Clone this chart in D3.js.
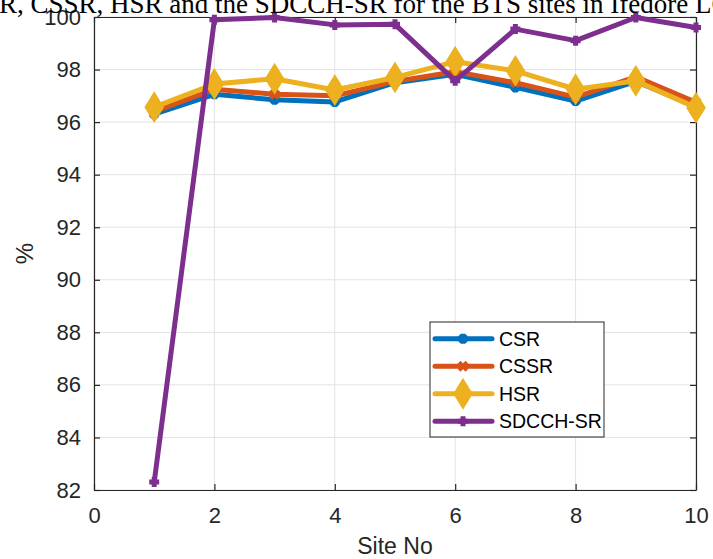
<html>
<head>
<script src="https://cdn.jsdelivr.net/npm/d3@7"></script>
<style>
  body { margin: 0; background: #fff; }
  svg { display: block; }
</style>
</head>
<body>
<svg id="chart"></svg>
<script>
// values
let sites = [1, 2, 3, 4, 5, 6, 7, 8, 9, 10]
let csr   = [96.30, 97.06, 96.85, 96.77, 97.50, 97.82, 97.32, 96.80, 97.55, 96.60]
let cssr  = [96.40, 97.25, 97.06, 97.00, 97.55, 97.92, 97.50, 96.95, 97.72, 96.75]
let hsr   = [96.57, 97.45, 97.65, 97.22, 97.70, 98.30, 97.95, 97.25, 97.57, 96.55]
let sdcch = [82.30, 99.90, 99.98, 99.70, 99.72, 97.57, 99.54, 99.10, 99.98, 99.60]
let seriesNames = ["CSR", "CSSR", "HSR", "SDCCH-SR"]
let xTicks = [0, 2, 4, 6, 8, 10]
let yTicks = [82, 84, 86, 88, 90, 92, 94, 96, 98, 100]
let titleText = "Comparison of CSR, CSSR, HSR and the SDCCH-SR for the BTS sites in Ifedore LGA"

let series = [
  { name: seriesNames[0], values: csr,   color: "#0072BD", marker: "star" },
  { name: seriesNames[1], values: cssr,  color: "#D95319", marker: "cross" },
  { name: seriesNames[2], values: hsr,   color: "#EDB120", marker: "diamond" },
  { name: seriesNames[3], values: sdcch, color: "#7E2F8E", marker: "plus" }
]

let width = 713, height = 559
let margin = { top: 17, right: 17, bottom: 69, left: 94 }
let axisColor = "#262626"

let svg = d3.select("#chart").attr("width", width).attr("height", height)

let xScale = d3.scaleLinear().domain([0, 10]).range([margin.left, width - margin.right])
let yScale = d3.scaleLinear().domain([82, 100]).range([height - margin.bottom, margin.top])

let x0 = xScale.range()[0], x1 = xScale.range()[1]
let y0 = yScale.range()[0], y1 = yScale.range()[1]

// grid
let grid = svg.append("g")
grid.selectAll(".gx").data(xTicks).enter().append("line")
  .attr("x1", d => xScale(d)).attr("x2", d => xScale(d))
  .attr("y1", y0).attr("y2", y1)
  .attr("stroke", "#e3e3e3").attr("stroke-width", 1)
grid.selectAll(".gy").data(yTicks).enter().append("line")
  .attr("x1", x0).attr("x2", x1)
  .attr("y1", d => yScale(d)).attr("y2", d => yScale(d))
  .attr("stroke", "#e3e3e3").attr("stroke-width", 1)

// axes (ticks pointing inwards, like the original)
let font = "'Liberation Sans', Arial, sans-serif"
let axisB = svg.append("g").attr("transform", `translate(0,${y0})`)
  .call(d3.axisBottom(xScale).tickValues(xTicks).tickSizeInner(-6).tickSizeOuter(0).tickPadding(17))
let axisT = svg.append("g").attr("transform", `translate(0,${y1})`)
  .call(d3.axisTop(xScale).tickValues(xTicks).tickSizeInner(-6).tickSizeOuter(0).tickFormat(""))
let axisL = svg.append("g").attr("transform", `translate(${x0},0)`)
  .call(d3.axisLeft(yScale).tickValues(yTicks).tickSizeInner(-6).tickSizeOuter(0).tickPadding(13))
let axisR = svg.append("g").attr("transform", `translate(${x1},0)`)
  .call(d3.axisRight(yScale).tickValues(yTicks).tickSizeInner(-6).tickSizeOuter(0).tickFormat(""))

;[axisB, axisT, axisL, axisR].forEach(a => {
  a.select(".domain").attr("stroke", axisColor).attr("stroke-width", 1.2)
  a.selectAll(".tick line").attr("stroke", axisColor).attr("stroke-width", 1.2)
  a.selectAll("text").attr("fill", axisColor).style("font-family", font).style("font-size", "22px")
})

// lines
let line = d3.line().x((d, i) => xScale(sites[i])).y(d => yScale(d))

function markerPath(type, s) {
  if (type == "diamond") return `M0,${-s}L${s * 0.62},0L0,${s}L${-s * 0.62},0Z`
  if (type == "plus") return `M${-s},0L${s},0M0,${-s}L0,${s}`
  if (type == "cross") return `M${-s},${-s}L${s},${s}M${-s},${s}L${s},${-s}`
  // star: plus + cross
  let k = s * 0.72
  return `M${-s},0L${s},0M0,${-s}L0,${s}M${-k},${-k}L${k},${k}M${-k},${k}L${k},${-k}`
}
function drawMarker(g, type, color) {
  if (type == "diamond") {
    g.append("path").attr("d", markerPath(type, 14)).attr("fill", color).attr("stroke", color).attr("stroke-width", 2)
  } else if (type == "plus") {
    g.append("path").attr("d", markerPath(type, 5)).attr("fill", "none").attr("stroke", color).attr("stroke-width", 5)
  } else if (type == "cross") {
    g.append("path").attr("d", markerPath(type, 4)).attr("fill", "none").attr("stroke", color).attr("stroke-width", 4)
  } else {
    g.append("path").attr("d", markerPath(type, 5)).attr("fill", "none").attr("stroke", color).attr("stroke-width", 4)
  }
}

series.forEach(s => {
  let g = svg.append("g")
  g.append("path").datum(s.values)
    .attr("d", line)
    .attr("fill", "none")
    .attr("stroke", s.color)
    .attr("stroke-width", 5)
    .attr("stroke-linejoin", "round")
  s.values.forEach((v, i) => {
    let m = g.append("g").attr("transform", `translate(${xScale(sites[i])},${yScale(v)})`)
    drawMarker(m, s.marker, s.color)
  })
})

// legend
let legend = svg.append("g").attr("transform", "translate(430,322)")
legend.append("rect").attr("width", 174).attr("height", 115)
  .attr("fill", "#fff").attr("stroke", axisColor).attr("stroke-width", 1)
let legendRows = d3.scaleBand().domain(seriesNames).range([3, 113])
series.forEach(s => {
  let cy = legendRows(s.name) + legendRows.bandwidth() / 2
  let row = legend.append("g").attr("transform", `translate(0,${cy})`)
  row.append("line").attr("x1", 5).attr("x2", 62).attr("y1", 0).attr("y2", 0)
    .attr("stroke", s.color).attr("stroke-width", 5).attr("stroke-linecap", "round")
  let m = row.append("g").attr("transform", "translate(33,0)")
  drawMarker(m, s.marker, s.color)
  row.append("text").attr("x", 69).attr("y", 0).attr("dy", "0.36em")
    .attr("fill", "#000").style("font-family", font).style("font-size", "19.5px")
    .text(s.name)
})

// axis labels
svg.append("text").attr("x", (x0 + x1) / 2).attr("y", 554)
  .attr("text-anchor", "middle").attr("fill", axisColor)
  .style("font-family", font).style("font-size", "23px").text("Site No")
svg.append("text").attr("transform", `translate(33,${(y0 + y1) / 2}) rotate(-90)`)
  .attr("text-anchor", "middle").attr("fill", axisColor)
  .style("font-family", font).style("font-size", "24px").text("%")

// title, cut off at the top and sides like in the source image
let title = svg.append("text").attr("y", 13)
  .attr("fill", "#000")
  .style("font-family", "'Liberation Serif', 'Times New Roman', serif").style("font-size", "27px")
  .text(titleText)
let offset = title.node().getSubStringLength(0, titleText.indexOf("R,"))
title.attr("x", -offset - 1)
</script>
</body>
</html>
